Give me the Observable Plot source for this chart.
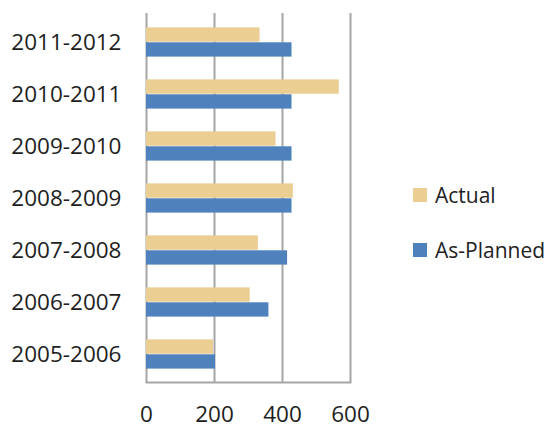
<!DOCTYPE html>
<html><head><meta charset="utf-8">
<script src="https://cdn.jsdelivr.net/npm/d3@7"></script>
<script src="https://cdn.jsdelivr.net/npm/@observablehq/plot@0.6"></script>
<style>
body{margin:0;background:#fff;font-family:"Open Sans",sans-serif;}
#wrap{position:relative;width:558px;height:429px;}
.leg{position:absolute;left:413px;display:flex;align-items:center;font-size:21px;color:#222;}
.sw{width:14px;height:14px;margin-right:8px;}
</style>
</head><body><div id="wrap"></div>
<script>
const categories = ["2005-2006","2006-2007","2007-2008","2008-2009","2009-2010","2010-2011","2011-2012"];
const actual = [197,305,329,432,381,567,334];
const planned = [203,360,415,428,428,428,428];
const xTicks = [0,200,400,600];
const seriesNames = ["Actual","As-Planned"];
const seriesColors = ["#EBCE92","#4F81BD"];

const data = categories.map((c,i)=>({cat:c, actual:actual[i], planned:planned[i]}));

const plot = Plot.plot({
  width:558, height:429,
  marginLeft:146, marginRight:208, marginTop:13, marginBottom:47,
  style:{fontFamily:"Open Sans", fontSize:"22.5px", color:"#1e1e1e", background:"white"},
  x:{domain:[0,600], ticks:xTicks, label:null, tickSize:0, tickPadding:24},
  y:{domain:[...categories].reverse(), padding:0, label:null, tickSize:0, tickPadding:25},
  marks:[
    Plot.ruleX(xTicks, {stroke:"#A6A6A6", strokeWidth:2}),
    Plot.frame({anchor:"bottom", stroke:"#A6A6A6", strokeWidth:2}),
    Plot.barX(data, {x:"actual", y:"cat", fill:seriesColors[0], insetTop:11.4, insetBottom:26.3}),
    Plot.barX(data, {x:"planned", y:"cat", fill:seriesColors[1], insetTop:26.3, insetBottom:11.4})
  ]
});
const wrap = document.getElementById("wrap");
wrap.appendChild(plot);
const legTops = [181, 236];
seriesNames.forEach((n,i)=>{
  const d = document.createElement("div");
  d.className = "leg";
  d.style.top = legTops[i] + "px";
  d.innerHTML = `<div class="sw" style="background:${seriesColors[i]}"></div><span>${n}</span>`;
  wrap.appendChild(d);
});
</script>
</body></html>
